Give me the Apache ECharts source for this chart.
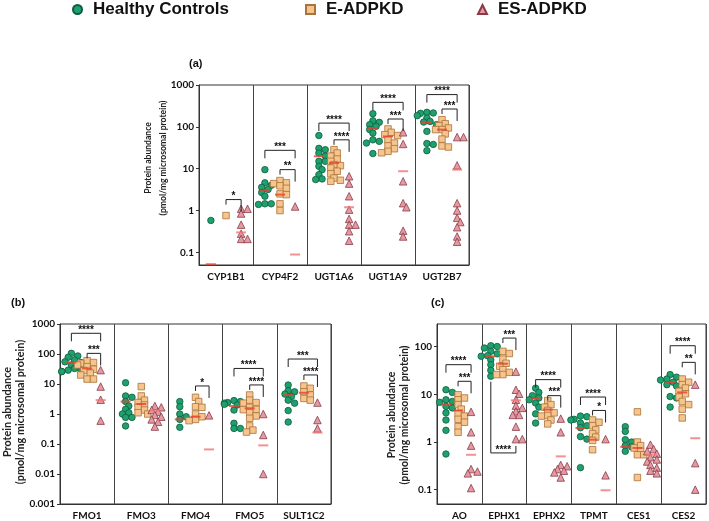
<!doctype html>
<html>
<head>
<meta charset="UTF-8">
<title></title>
<script src="https://cdn.jsdelivr.net/npm/echarts@6/dist/echarts.min.js"></script>
<style>
html,body{margin:0;padding:0;background:#fff;}
#chart{width:709px;height:521px;}
</style>
</head>
<body>
<div id="chart"></div>
<script>
var groups = ['Healthy Controls', 'E-ADPKD', 'ES-ADPKD'];

// (a)
var genesA = ['CYP1B1', 'CYP4F2', 'UGT1A6', 'UGT1A9', 'UGT2B7'];
var hcA = [
	[0.58],
	[9.5, 4.6, 4.0, 3.6, 3.2, 2.7, 2.2, 1.45, 1.45, 1.4],
	[62, 30.6, 28.5, 23.7, 20, 15, 15, 11.4, 9.5, 7.2, 5.7, 5.5],
	[206, 140, 128, 113, 103, 86, 71, 49, 45, 41, 23],
	[222, 215, 210, 185, 163, 135, 130, 113, 78, 40, 38, 27]
];
var eA = [
	[0.76],
	[5.2, 4.6, 4.4, 3.9, 3.4, 2.5, 2.4, 1.45, 1.0],
	[28.5, 23.7, 20, 17, 15, 12.5, 11.8, 10.4, 8.7, 7.6, 6, 5.3, 5.0],
	[89, 74, 65, 62, 49, 41, 35, 30, 26, 24],
	[148, 119, 107, 94, 86, 86, 68, 51, 35, 33]
];
var esA = [
	[1.1, 1.1, 0.85, 0.46, 0.28, 0.21, 0.21],
	[1.25],
	[6.6, 4.4, 2.2, 1.05, 0.63, 0.46, 0.46, 0.32, 0.19],
	[74, 39, 5.0, 1.5, 1.2, 0.33, 0.24],
	[57, 57, 12, 1.5, 1.0, 0.67, 0.53, 0.40, 0.24, 0.18]
];
var medHcA = [0.052, 3.0, 19.8, 94, 130];
var medEA = [null, 2.4, 13.7, 59, 86];
var medEsA = [0.30, 0.089, 1.2, 8.7, 9.5];
// gene, from group, to group, height, stars
var sigA = [
	[0, 1, 2, 1.83, '*'], [1, 0, 2, 27.5, '***'], [1, 1, 2, 9.5, '**'],
	[2, 0, 2, 123, '****'], [2, 1, 2, 49, '****'], [3, 0, 2, 385, '****'],
	[3, 1, 2, 154, '***'], [4, 0, 2, 590, '****'], [4, 1, 2, 267, '***']
];

// (b)
var genesB = ['FMO1', 'FMO3', 'FMO4', 'FMO5', 'SULT1C2'];
var hcB = [
	[105, 86, 78, 63, 55, 52, 43, 33, 29, 29, 26, 26],
	[11, 4.0, 3.6, 2.6, 1.85, 1.43, 1.1, 1.0, 0.77, 0.77, 0.40],
	[2.6, 1.75, 1.0, 0.81, 0.66, 0.36],
	[2.8, 2.6, 2.4, 2.3, 2.1, 2.0, 1.36, 0.49, 0.33, 0.33],
	[9.2, 6, 5.5, 4.6, 3.8, 2.9, 2.3, 1.3, 0.54]
];
var eB = [
	[60, 52, 49, 43, 38, 31, 28, 23, 20, 14.6, 14.6],
	[8.2, 4.0, 2.9, 2.4, 2.0, 1.67, 1.36, 1.1, 1.0],
	[3.6, 2.6, 1.75, 1.67, 1.0, 0.81, 0.66, 0.6],
	[4.3, 2.9, 2.4, 2.3, 1.67, 1.43, 1.4, 1.1, 0.86, 0.72, 0.40, 0.29, 0.25],
	[8.6, 7.2, 5.5, 4.3, 3.3, 2.9]
];
var esB = [
	[29, 8.2, 3.0, 0.6],
	[1.85, 1.67, 1.36, 1.2, 0.93, 0.81, 0.66, 0.55, 0.38],
	[0.9],
	[1.0, 0.2, 0.01],
	[2.4, 0.63, 0.33]
];
var medHcB = [52, 2.6, 0.66, 1.85, 4.3];
var medEB = [33, 2.15, 0.81, 1.55, 5.1];
var medEsB = [2.9, 1.3, 0.066, 0.09, 0.24];
var sigB = [
	[0, 0, 2, 490, '****'], [0, 1, 2, 105, '***'], [2, 1, 2, 8.6, '*'],
	[3, 0, 2, 33, '****'], [3, 1, 2, 9.3, '****'], [4, 0, 2, 68, '***'],
	[4, 1, 2, 20, '****']
];

// (c)
var genesC = ['AO', 'EPHX1', 'EPHX2', 'TPMT', 'CES1', 'CES2'];
var hcC = [
	[12.5, 11, 7.7, 7.1, 6.8, 5.6, 5.2, 4.1, 2.9, 1.76, 0.56],
	[105, 101, 94, 80, 71, 65, 63, 53, 42, 32, 24],
	[13.5, 11, 9.4, 8.4, 7.7, 6.6, 5.4, 3.9, 2.5],
	[3.5, 3.4, 3.0, 2.9, 2.5, 2.2, 2.0, 1.3, 1.15, 0.29],
	[2.1, 1.67, 1.12, 1.0, 0.84, 0.79, 0.64],
	[26, 23, 21, 20, 18, 16, 15, 9, 8.4, 5.4]
];
var eC = [
	[9.8, 8.4, 7.7, 6.1, 4.9, 3.9, 3.5, 3.0, 2.6, 2.1, 1.6],
	[80, 72, 55, 45, 39, 33, 29, 26, 26],
	[7.4, 6.1, 5.4, 4.6, 4.1, 3.6, 3.5, 2.9, 2.4],
	[2.9, 2.6, 2.2, 1.8, 1.5, 1.27, 1.08, 0.69],
	[4.3, 1.0, 0.84, 0.75, 0.64, 0.54, 0.54, 0.18],
	[21, 18, 16, 13.6, 11.6, 10.3, 8.8, 7.1, 6.1, 4.9, 3.2]
];
var esC = [
	[4.3, 1.6, 0.84, 0.27, 0.24, 0.22, 0.108],
	[30, 12.5, 10.3, 7.7, 5.8, 5.2, 4.4, 3.7, 3.7, 2.1, 1.15, 1.15],
	[3.1, 1.6, 0.33, 0.31, 0.27, 0.25, 0.23, 0.18],
	[1.15, 0.2],
	[0.88, 0.71, 0.64, 0.57, 0.48, 0.43, 0.39, 0.33, 0.29, 0.25, 0.22],
	[16, 0.36, 0.1]
];
var medHcC = [6.1, 63, 8.1, 1.97, 0.79, 18];
var medEC = [4.6, 44, 4.8, 1.12, 0.75, 11];
var medEsC = [0.54, 7.5, 0.5, 0.097, 0.54, 1.2];
// last flag: bracket drawn underneath
var sigC = [
	[0, 0, 2, 42, '****'], [0, 1, 2, 18.8, '***'], [1, 1, 2, 152, '***'],
	[1, 0, 2, 0.59, '****', 1], [2, 0, 2, 20.4, '****'], [2, 1, 2, 9.4, '***'],
	[3, 0, 2, 8.8, '****'], [3, 1, 2, 4.6, '*'], [5, 0, 2, 105, '****'],
	[5, 1, 2, 47, '**']
];

var ticksA = [0.1, 1, 10, 100, 1000];
var ticksB = [0.001, 0.01, 0.1, 1, 10, 100, 1000];
var ticksC = [0.1, 1, 10, 100];
var yTitle = 'Protein abundance\n(pmol/mg microsomal protein)';

var fills = ['#1fa06e', '#f6c48c', '#e49aa3'];
var borders = ['#0d5e3e', '#a8743a', '#8a3a46'];
var symbols = ['circle', 'rect', 'triangle'];
var sizes = [6.5, 6.5, 7.5];
var medColors = ['#e8412f', '#e8412f', '#f07575'];
var axisFont = 'Lato';

// spread points sideways when they crowd (beeswarm)
function swarm(vals, pxDec, stepPx, gap, unitPx) {
	var placed = [];
	var order = [0, 1, -1, 2, -2, 3, -3];
	return vals.map(function(v) {
		var y = Math.log10(v) * pxDec;
		var k = 0;
		for(var i = 0; i < order.length; i++) {
			k = order[i];
			var ok = true;
			for(var j = 0; j < placed.length; j++) {
				var dx = (k - placed[j][0]) * stepPx, dy = y - placed[j][1];
				if(dx * dx + dy * dy < gap * gap) { ok = false; break; }
			}
			if(ok) break;
		}
		placed.push([k, y]);
		return k * stepPx / unitPx;
	});
}

function fmt(v) {
	return String(+Number(v).toPrecision(6));
}

var legendIcons = ['circle', 'rect', 'triangle'];
var legendLeft = [67, 300, 472];

var option = {
	animation: false,
	backgroundColor: '#fff',
	title: [
		{ text: '(a)', left: 184, top: 53 },
		{ text: '(b)', left: 6, top: 292 },
		{ text: '(c)', left: 426, top: 292 }
	].map(function(t) {
		t.textStyle = { fontFamily: 'Liberation Sans', fontWeight: 'bold', fontSize: 11, color: '#111' };
		return t;
	}),
	legend: groups.map(function(name, i) {
		return {
			data: [{ name: name, icon: legendIcons[i] }],
			left: legendLeft[i], top: -4, itemWidth: 9, itemHeight: 9,
			textStyle: { fontFamily: 'Liberation Sans', fontWeight: 'bold', fontSize: 17, color: '#111',
				padding: [0, 0, 0, 6] }
		};
	}),
	graphic: [],
	grid: [], xAxis: [], yAxis: [], series: []
};

function panel(p) {
	var gi = option.grid.length;
	var n = p.genes.length;
	option.grid.push({
		left: p.rect[0], top: p.rect[1], width: p.rect[2], height: p.rect[3],
		show: true, borderColor: '#333', borderWidth: 1, containLabel: false
	});
	option.xAxis.push({
		type: 'category', gridIndex: gi, data: p.genes, boundaryGap: true,
		axisLine: { onZero: false, lineStyle: { color: '#333' } },
		axisTick: { alignWithLabel: true, length: 3, lineStyle: { color: '#333' } },
		axisLabel: { interval: 0, fontFamily: axisFont, fontWeight: 'bold', fontSize: 10, color: '#111', margin: 7 },
		splitLine: { show: false }
	});
	// separators between genes
	option.xAxis.push({
		type: 'value', gridIndex: gi, min: -0.5, max: n - 0.5, interval: 1,
		axisLine: { show: false, onZero: false }, axisTick: { show: false }, axisLabel: { show: false },
		splitLine: { show: true, lineStyle: { color: '#444' } }
	});
	option.yAxis.push({
		type: 'log', gridIndex: gi, min: p.yMin, max: p.yMax, logBase: 10,
		axisLine: { show: true, onZero: false, lineStyle: { color: '#333' } },
		axisTick: { show: true, length: 3, customValues: p.ticks, lineStyle: { color: '#333' } },
		axisLabel: { customValues: p.ticks, formatter: fmt, fontFamily: axisFont, fontWeight: 'bold',
			fontSize: 10, color: '#111', margin: 5 },
		splitLine: { show: false }
	});
	// y title, rotated
	option.graphic.push({
		type: 'text', x: p.name[0], y: p.name[1], rotation: Math.PI / 2,
		style: { text: yTitle, align: 'center', verticalAlign: 'middle',
			font: 'bold ' + p.name[2] + 'px ' + axisFont, lineHeight: p.name[3], fill: '#222' }
	});
	var xi = gi * 2 + 1;
	var logSpan = Math.log10(p.yMax) - Math.log10(p.yMin);
	var pxDec = p.rect[3] / logSpan;
	var unitPx = p.rect[2] / n;
	var lists = [p.hc, p.e, p.es];
	for(var g = 0; g < 3; g++) {
		var data = [];
		lists[g].forEach(function(vals, ci) {
			var offs = swarm(vals, pxDec, 3.2, 4.6, unitPx);
			vals.forEach(function(v, k) {
				data.push([ci + p.offs[g] + offs[k], v]);
			});
		});
		option.series.push({
			type: 'scatter', name: groups[g], xAxisIndex: xi, yAxisIndex: gi,
			symbol: symbols[g], symbolSize: sizes[g], data: data, z: 3,
			itemStyle: { color: fills[g], borderColor: borders[g], borderWidth: 0.8, opacity: 1 }
		});
	}
	var meds = [p.medHc, p.medE, p.medEs];
	var mdata = [];
	meds.forEach(function(arr, g) {
		arr.forEach(function(v, ci) {
			if(v == null) return;
			mdata.push({ value: [ci + p.offs[g], v], itemStyle: { color: medColors[g] } });
		});
	});
	option.series.push({
		type: 'scatter', name: 'median', xAxisIndex: xi, yAxisIndex: gi,
		symbol: 'rect', symbolSize: [10, 2], data: mdata, z: 5, silent: true
	});
	var sig = p.sig;
	option.series.push({
		type: 'custom', name: 'sig', xAxisIndex: xi, yAxisIndex: gi, clip: false, z: 6, silent: true,
		data: sig.map(function(s) { return [s[0], s[3]]; }),
		renderItem: function(params, api) {
			var s = sig[params.dataIndex];
			var p1 = api.coord([s[0] + p.offs[s[1]], s[3]]);
			var p2 = api.coord([s[0] + p.offs[s[2]], s[3]]);
			var y = p1[1];
			var pts;
			if(s[5]) {
				var minL = Math.min.apply(null, lists[s[1]][s[0]]);
				var yl = api.coord([0, minL / 1.3])[1];
				pts = [[p1[0], yl], [p1[0], y], [p2[0], y], [p2[0], y - 7]];
			} else {
				var l1 = s[1] === 0 ? 8 : 5, l2 = s[1] === 0 ? 8 : 12;
				pts = [[p1[0], y + l1], [p1[0], y], [p2[0], y], [p2[0], y + l2]];
			}
			return {
				type: 'group',
				children: [{
					type: 'polyline', shape: { points: pts },
					style: { stroke: '#222', lineWidth: 1, fill: null }
				}, {
					type: 'text', x: (p1[0] + p2[0]) / 2, y: y + 2,
					style: { text: s[4], textAlign: 'center', textVerticalAlign: 'bottom',
						font: 'bold 10px Liberation Sans', fill: '#111' }
				}]
			};
		}
	});
}

// name: [centre x, centre y, font size, line height]
panel({ genes: genesA, hc: hcA, e: eA, es: esA, medHc: medHcA, medE: medEA, medEs: medEsA, sig: sigA,
	rect: [199, 85, 270, 180], yMin: 0.05, yMax: 1000, ticks: ticksA, name: [155.5, 158, 8.6, 15],
	offs: [-0.28, 0, 0.28] });
panel({ genes: genesB, hc: hcB, e: eB, es: esB, medHc: medHcB, medE: medEB, medEs: medEsB, sig: sigB,
	rect: [60, 324, 271, 180], yMin: 0.001, yMax: 1000, ticks: ticksB, name: [14.5, 412, 10.8, 13],
	offs: [-0.29, 0, 0.25] });
panel({ genes: genesC, hc: hcC, e: eC, es: esC, medHc: medHcC, medE: medEC, medEs: medEsC, sig: sigC,
	rect: [437, 324, 269, 180], yMin: 0.05, yMax: 300, ticks: ticksC, name: [398.5, 415, 10.4, 13],
	offs: [-0.3, -0.03, 0.26] });

var chart = echarts.init(document.getElementById('chart'));
chart.setOption(option);
</script>
</body>
</html>
